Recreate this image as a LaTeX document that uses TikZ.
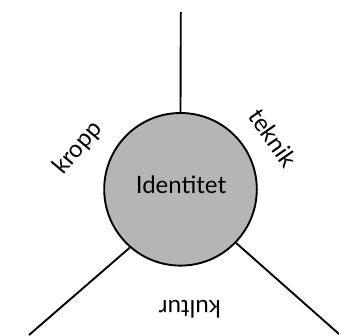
\documentclass[tikz,border=0pt]{standalone}
\usepackage{fontspec}
\setmainfont{Lato}
\begin{document}
\begin{tikzpicture}[x=1pt,y=-1pt,
  spoke/.style={line width=1.9pt,line cap=butt},
  core/.style={circle,draw,line width=1.9pt,fill=corefill,minimum size=152.6pt,inner sep=0pt},
  word/.style={font=\fontsize{24}{27}\selectfont,inner sep=0pt}]
\definecolor{corefill}{RGB}{181,181,181}
\useasboundingbox (0,0) rectangle (339,335);
% central circle
\node[core] (id) at (180.5,189.3) {};
\node[word] (idtext) at (181,185) {Identitet};
% free ends of the three spokes
\coordinate (top) at (180.8,12);
\coordinate (ll) at (29,335);
\coordinate (lr) at (339,334);
\draw[spoke] (top) -- (id.north);
\draw[spoke] (id.229) -- (ll);
\draw[spoke] (id.316) -- (lr);
% labels between the spokes
\node[word,rotate=50] (kropp) at (78,148) {kropp};
\node[word,rotate=-55] (teknik) at (273,138) {teknik};
\node[word,rotate=180] (kultur) at (190,309) {kultur};
\end{tikzpicture}
\end{document}
